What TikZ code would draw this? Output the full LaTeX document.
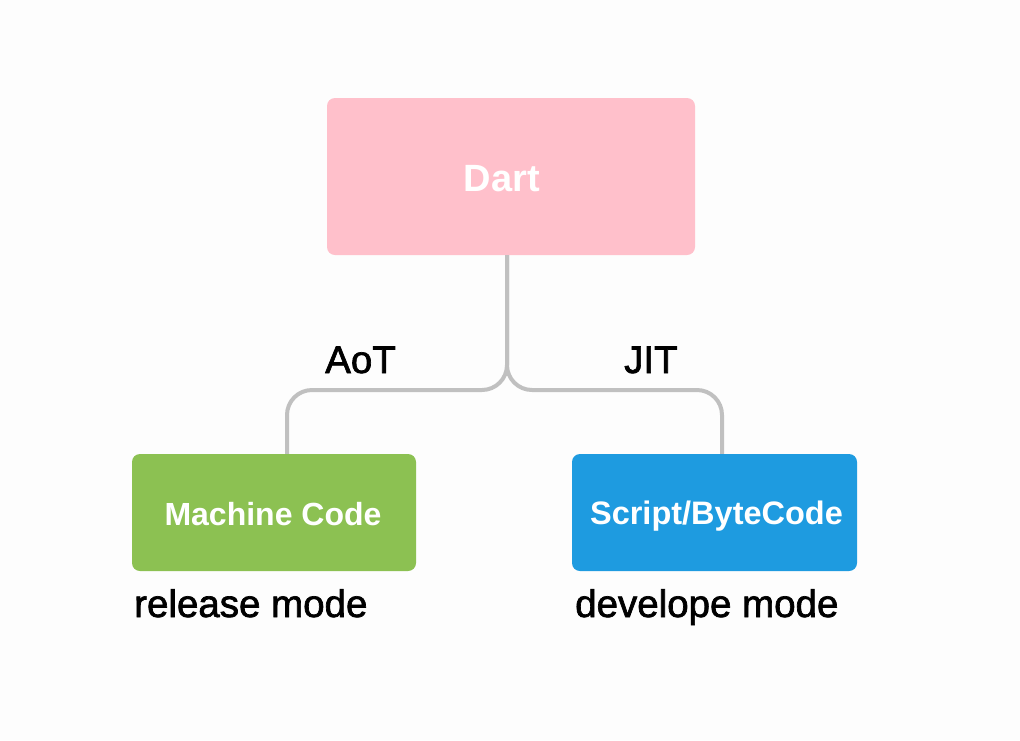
\documentclass[tikz,border=0pt]{standalone}
\usepackage{fontspec}
\setmainfont{Liberation Sans}
\newfontfamily\labfont[FakeBold=1.8]{Liberation Sans}
\definecolor{bgc}{HTML}{FDFDFD}
\definecolor{pinkc}{HTML}{FFC0CB}
\definecolor{greenc}{HTML}{8CC152}
\definecolor{bluec}{HTML}{1E9BE0}
\definecolor{linec}{HTML}{C0C0C0}
\tikzset{
  box/.style={rounded corners=8pt, draw=none},
  boxtext/.style={text=white, font=\bfseries\fontsize{32}{36}\selectfont, inner sep=0pt},
  conn/.style={draw=linec, line width=4pt, rounded corners=25pt},
  lab/.style={font=\labfont\fontsize{38.5}{42}\selectfont, text=black, inner sep=0pt, anchor=base west}
}
\begin{document}
\begin{tikzpicture}[x=1pt,y=-1pt]
\fill[bgc] (0,0) rectangle (1020,740);
\useasboundingbox (0,0) rectangle (1020,740);
\node[box, fill=pinkc, minimum width=368pt, minimum height=157pt] (dart) at (511,176.5) {};
\node[box, fill=greenc, minimum width=284pt, minimum height=117pt] (mc) at (274,512.5) {};
\node[box, fill=bluec, minimum width=285pt, minimum height=117pt] (sb) at (714.5,512.5) {};
\node[boxtext, font=\bfseries\fontsize{38}{42}\selectfont] (dartt) at ([xshift=-9pt,yshift=-2pt]dart.center) {Dart};
\node[boxtext] (mct) at ([xshift=-1pt,yshift=-2pt]mc.center) {Machine Code};
\node[boxtext, font=\bfseries\fontsize{32.5}{36}\selectfont] (sbt) at ([xshift=2pt,yshift=-4pt]sb.center) {Script/ByteCode};
\coordinate (jn) at (507,390);
\draw[conn] (jn |- dart.south) -- (jn) -- ([xshift=13pt]mc.north |- jn) -- ([xshift=13pt]mc.north);
\draw[conn] (jn |- dart.south) -- (jn) -- ([xshift=7.5pt]sb.north |- jn) -- ([xshift=7.5pt]sb.north);
\node[lab] (aot) at (325,373) {AoT};
\node[lab] (jit) at (624,373) {JIT};
\node[lab] (rel) at (134,617) {release mode};
\node[lab] (dev) at (575,617) {develope mode};
\end{tikzpicture}
\end{document}
